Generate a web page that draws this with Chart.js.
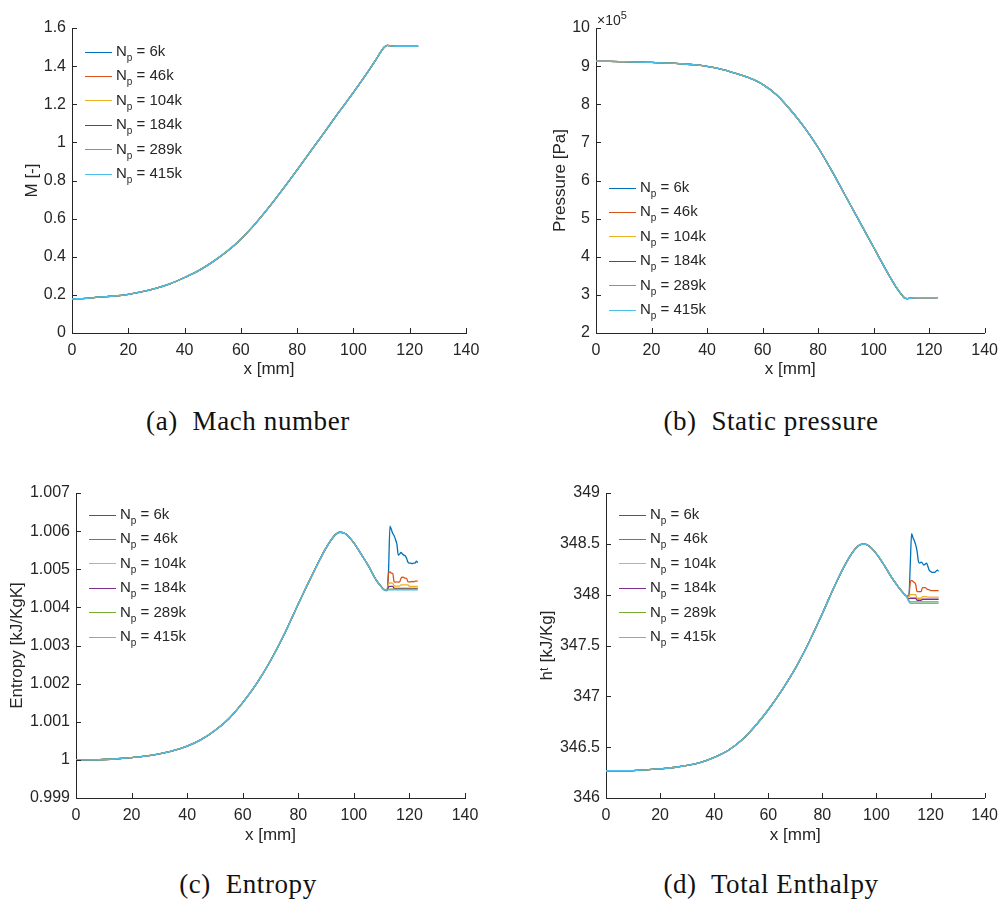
<!DOCTYPE html>
<html lang="en">

<head>
    <meta charset="UTF-8">
    <title>Grid convergence – nozzle flow</title>
    <script src="https://cdn.jsdelivr.net/npm/chart.js"></script>
    <style>
        body {
            margin: 0;
            background: #fff;
            font-family: "Liberation Sans", Arial, sans-serif;
        }

        #page {
            position: relative;
            width: 1006px;
            height: 904px;
            overflow: hidden;
        }

        .panel {
            position: absolute;
        }

        .legend {
            position: absolute;
            font-size: 15px;
            color: #262626;
        }

        .legend .row {
            position: absolute;
            left: 0;
            height: 20px;
            line-height: 20px;
            white-space: nowrap;
        }

        .legend .swatch {
            display: inline-block;
            width: 27px;
            height: 0;
            border-top: 1.6px solid;
            vertical-align: middle;
            margin-right: 4px;
        }

        .legend sub {
            font-size: 10px;
            vertical-align: baseline;
            position: relative;
            top: 5px;
        }

        .caption {
            position: absolute;
            width: 400px;
            text-align: center;
            font-family: "Liberation Serif", "DejaVu Serif", serif;
            font-size: 27px;
            letter-spacing: 0.6px;
            color: #111;
        }

        .exponent {
            position: absolute;
            font-size: 14px;
            color: #262626;
        }

        .exponent sup {
            font-size: 11px;
        }
    </style>
</head>

<body>
    <div id="page">
        <div class="panel" style="left:0;top:0"><canvas id="mach" width="500" height="390"></canvas></div>
        <div class="panel" style="left:520px;top:0"><canvas id="pressure" width="486" height="390"></canvas></div>
        <div class="panel" style="left:0;top:470px"><canvas id="entropy" width="500" height="380"></canvas></div>
        <div class="panel" style="left:520px;top:470px"><canvas id="enthalpy" width="486" height="380"></canvas></div>
        <div class="exponent" style="left:597px;top:9px">&times;10<sup>5</sup></div>
        <div class="caption" style="left:48px;top:406px">(a)&nbsp; Mach number</div>
        <div class="caption" style="left:571px;top:406px">(b)&nbsp; Static pressure</div>
        <div class="caption" style="left:48px;top:869px">(c)&nbsp; Entropy</div>
        <div class="caption" style="left:571px;top:869px">(d)&nbsp; Total Enthalpy</div>
    </div>

    <script>
        // mesh sizes and MATLAB default line colours
        const meshLabels = ['6k', '46k', '104k', '184k', '289k', '415k'];
        const meshColors = ['#0072BD', '#D95319', '#EDB120', '#7E2F8E', '#77AC30', '#4DBEEE'];

        const xTicks = [0, 20, 40, 60, 80, 100, 120, 140];

        // (a) Mach number - all meshes collapse on one curve
        const machX = [0, 5, 10, 15, 20, 25, 30, 35, 40, 45, 50, 55, 60, 65, 70, 75, 80, 85, 90, 95, 100, 105, 108, 110, 111, 112, 113, 115, 123];
        const machY = [0.179, 0.182, 0.189, 0.194, 0.203, 0.217, 0.235, 0.259, 0.291, 0.327, 0.373, 0.427, 0.492, 0.571, 0.660, 0.756, 0.856, 0.958, 1.059, 1.162, 1.262, 1.367, 1.434, 1.481, 1.500, 1.509, 1.507, 1.504, 1.504];
        const machTicks = [0, 0.2, 0.4, 0.6, 0.8, 1, 1.2, 1.4, 1.6];

        // (b) static pressure [Pa]
        const presX = [0, 5, 10, 15, 20, 25, 30, 35, 40, 45, 50, 55, 60, 65, 70, 75, 80, 85, 90, 95, 100, 105, 108, 110, 111, 112, 113, 115, 123];
        const presY = [9.125e5, 9.125e5, 9.116e5, 9.107e5, 9.098e5, 9.081e5, 9.063e5, 9.037e5, 8.994e5, 8.923e5, 8.819e5, 8.696e5, 8.521e5, 8.249e5, 7.856e5, 7.400e5, 6.866e5, 6.245e5, 5.580e5, 4.915e5, 4.249e5, 3.584e5, 3.217e5, 3.015e5, 2.928e5, 2.902e5, 2.910e5, 2.928e5, 2.928e5];
        const presTicks = [2e5, 3e5, 4e5, 5e5, 6e5, 7e5, 8e5, 9e5, 10e5];

        // (c)/(d) common part of the curves, then per-mesh tails after the shock
        const baseX = [0, 5, 10, 15, 20, 25, 30, 35, 40, 45, 50, 55, 60, 65, 70, 75, 80, 85, 90, 93, 95, 97, 100, 103, 105, 108, 110, 111];
        const tailX = [112, 112.5, 113, 113.5, 114, 114.5, 115, 115.5, 116, 116.5, 117, 117.5, 118, 118.5, 119, 119.5, 120, 120.5, 121, 121.5, 122, 122.5, 123];

        const entropyBase = [1.00000, 1.00000, 1.00001, 1.00003, 1.00006, 1.00010, 1.00016, 1.00024, 1.00036, 1.00053, 1.00077, 1.00108, 1.00150, 1.00200, 1.00260, 1.00330, 1.00409, 1.00485, 1.00556, 1.00588, 1.00597, 1.00593, 1.00569, 1.00535, 1.00512, 1.00472, 1.00453, 1.00446];
        const entropy6k = [1.00446, 1.00500, 1.00613, 1.00604, 1.00594, 1.00588, 1.00578, 1.00565, 1.00537, 1.00540, 1.00544, 1.00540, 1.00537, 1.00535, 1.00528, 1.00518, 1.00516, 1.00516, 1.00515, 1.00516, 1.00516, 1.00521, 1.00517];
        const entropy46k = [1.00445, 1.00490, 1.00493, 1.00490, 1.00489, 1.00467, 1.00466, 1.00467, 1.00466, 1.00467, 1.00477, 1.00479, 1.00478, 1.00477, 1.00476, 1.00467, 1.00467, 1.00467, 1.00468, 1.00467, 1.00469, 1.00469, 1.00469];
        const entropy104k = [1.00445, 1.00462, 1.00464, 1.00464, 1.00463, 1.00457, 1.00456, 1.00456, 1.00456, 1.00456, 1.00459, 1.00459, 1.00459, 1.00459, 1.00459, 1.00459, 1.00455, 1.00455, 1.00455, 1.00455, 1.00455, 1.00455, 1.00455];
        const entropy184k = [1.00444, 1.00454, 1.00455, 1.00455, 1.00455, 1.00450, 1.00450, 1.00450, 1.00450, 1.00450, 1.00450, 1.00450, 1.00450, 1.00450, 1.00450, 1.00450, 1.00450, 1.00450, 1.00450, 1.00450, 1.00450, 1.00450, 1.00450];
        const entropy289k = [1.00445, 1.00448, 1.00448, 1.00448, 1.00448, 1.00448, 1.00448, 1.00448, 1.00448, 1.00448, 1.00448, 1.00448, 1.00448, 1.00448, 1.00448, 1.00448, 1.00448, 1.00448, 1.00448, 1.00448, 1.00448, 1.00448, 1.00448];
        const entropy415k = [1.00445, 1.00446, 1.00446, 1.00446, 1.00446, 1.00446, 1.00446, 1.00446, 1.00446, 1.00446, 1.00446, 1.00446, 1.00446, 1.00446, 1.00446, 1.00446, 1.00446, 1.00446, 1.00446, 1.00446, 1.00446, 1.00446, 1.00446];
        const entropyTicks = [0.999, 1, 1.001, 1.002, 1.003, 1.004, 1.005, 1.006, 1.007];

        const enthalpyBase = [346.268, 346.268, 346.270, 346.276, 346.287, 346.300, 346.320, 346.350, 346.400, 346.465, 346.565, 346.703, 346.868, 347.058, 347.275, 347.530, 347.815, 348.113, 348.369, 348.474, 348.497, 348.484, 348.402, 348.284, 348.195, 348.080, 348.014, 347.988];
        const enthalpy6k = [347.99, 348.30, 348.60, 348.56, 348.53, 348.49, 348.43, 348.33, 348.31, 348.32, 348.31, 348.29, 348.30, 348.31, 348.28, 348.24, 348.23, 348.22, 348.22, 348.22, 348.23, 348.24, 348.23];
        const enthalpy46k = [347.99, 348.12, 348.14, 348.13, 348.12, 348.10, 348.03, 348.03, 348.03, 348.03, 348.07, 348.07, 348.07, 348.06, 348.05, 348.05, 348.04, 348.04, 348.04, 348.04, 348.04, 348.04, 348.04];
        const enthalpy104k = [347.98, 348.00, 348.00, 348.00, 348.00, 348.00, 347.965, 347.965, 347.965, 347.965, 347.98, 347.98, 347.98, 347.98, 347.975, 347.975, 347.975, 347.975, 347.975, 347.975, 347.975, 347.975, 347.975];
        const enthalpy184k = [347.96, 347.965, 347.965, 347.965, 347.965, 347.965, 347.945, 347.945, 347.945, 347.945, 347.955, 347.955, 347.955, 347.955, 347.955, 347.955, 347.955, 347.955, 347.955, 347.955, 347.955, 347.955, 347.955];
        const enthalpy289k = [347.94, 347.93, 347.93, 347.93, 347.93, 347.93, 347.93, 347.93, 347.93, 347.93, 347.93, 347.93, 347.93, 347.93, 347.93, 347.93, 347.93, 347.93, 347.93, 347.93, 347.93, 347.93, 347.93];
        const enthalpy415k = [347.93, 347.915, 347.915, 347.915, 347.915, 347.915, 347.915, 347.915, 347.915, 347.915, 347.915, 347.915, 347.915, 347.915, 347.915, 347.915, 347.915, 347.915, 347.915, 347.915, 347.915, 347.915, 347.915];
        const enthalpyTicks = [346, 346.5, 347, 347.5, 348, 348.5, 349];

        const ink = '#262626';
        Chart.defaults.font.family = '"Liberation Sans", Arial, sans-serif';
        Chart.defaults.color = ink;

        // MATLAB style tick marks pointing into the axes
        const innerTicks = {
            id: 'innerTicks',
            afterDraw(chart) {
                const { ctx, chartArea: a, scales: { x, y } } = chart;
                ctx.save();
                ctx.strokeStyle = ink;
                ctx.lineWidth = 1;
                ctx.beginPath();
                x.ticks.forEach(t => {
                    const p = Math.round(x.getPixelForValue(t.value)) + 0.5;
                    ctx.moveTo(p, a.bottom);
                    ctx.lineTo(p, a.bottom - 5);
                });
                y.ticks.forEach(t => {
                    const p = Math.round(y.getPixelForValue(t.value)) + 0.5;
                    ctx.moveTo(a.left, p);
                    ctx.lineTo(a.left + 5, p);
                });
                ctx.stroke();
                ctx.restore();
            }
        };

        function toPoints(xs, ys) {
            return xs.map((x, k) => ({ x: x, y: ys[k] }));
        }

        function makeChart(id, cfg) {
            const datasets = cfg.series.map((pts, i) => ({
                label: 'Np = ' + meshLabels[i],
                data: pts,
                borderColor: meshColors[i],
                borderWidth: 1.3,
                pointRadius: 0,
                cubicInterpolationMode: 'monotone',
                order: meshLabels.length - i   // last mesh on top, like the original
            }));

            return new Chart(document.getElementById(id), {
                type: 'line',
                data: { datasets: datasets },
                plugins: [innerTicks],
                options: {
                    responsive: false,
                    animation: false,
                    layout: { padding: cfg.padding },
                    plugins: { legend: { display: false }, tooltip: { enabled: false } },
                    scales: {
                        x: {
                            type: 'linear',
                            min: 0,
                            max: 140,
                            afterBuildTicks: axis => { axis.ticks = xTicks.map(v => ({ value: v })); },
                            afterFit: axis => { axis.height = 50; },
                            grid: { drawOnChartArea: false, drawTicks: false },
                            border: { color: ink, width: 1 },
                            ticks: { font: { size: 16 }, padding: 8, maxRotation: 0 },
                            title: { display: true, text: 'x [mm]', font: { size: 17 }, padding: { top: 0, bottom: cfg.xTitlePad } }
                        },
                        y: {
                            type: 'linear',
                            min: cfg.yTicks[0],
                            max: cfg.yTicks[cfg.yTicks.length - 1],
                            afterBuildTicks: axis => { axis.ticks = cfg.yTicks.map(v => ({ value: v })); },
                            afterFit: axis => { axis.width = cfg.yWidth; },
                            grid: { drawOnChartArea: false, drawTicks: false },
                            border: { color: ink, width: 1 },
                            ticks: { font: { size: 16 }, padding: 6, callback: cfg.tickFmt },
                            title: { display: true, text: cfg.yTitle, font: { size: 17 }, padding: { top: cfg.yTitlePad, bottom: 0 } }
                        }
                    }
                }
            });
        }

        function makeLegend(left, top) {
            const box = document.createElement('div');
            box.className = 'legend';
            box.style.left = left + 'px';
            box.style.top = top + 'px';
            meshLabels.forEach((lab, i) => {
                const row = document.createElement('div');
                row.className = 'row';
                row.style.top = (i * 24.4 - 10) + 'px';
                row.innerHTML = '<span class="swatch" style="border-color:' + meshColors[i] + '"></span>N<sub>p</sub> = ' + lab;
                box.appendChild(row);
            });
            document.getElementById('page').appendChild(box);
        }

        const trim3 = v => String(Number(v.toFixed(3)));

        makeChart('mach', {
            series: meshLabels.map(() => toPoints(machX, machY)),
            yTicks: machTicks,
            yTitle: 'M [-]',
            tickFmt: trim3,
            yWidth: 72,
            yTitlePad: 22,
            xTitlePad: 3,
            padding: { top: 28, right: 34, bottom: 7, left: 0 }
        });

        makeChart('pressure', {
            series: meshLabels.map(() => toPoints(presX, presY)),
            yTicks: presTicks,
            yTitle: 'Pressure [Pa]',
            tickFmt: v => String(Math.round(v / 1e5)),
            yWidth: 76,
            yTitlePad: 30,
            xTitlePad: 3,
            padding: { top: 28, right: 17, bottom: 7, left: 0 }
        });

        const entropyTails = [entropy6k, entropy46k, entropy104k, entropy184k, entropy289k, entropy415k];
        makeChart('entropy', {
            series: entropyTails.map(t => toPoints(baseX.concat(tailX), entropyBase.concat(t))),
            yTicks: entropyTicks,
            yTitle: 'Entropy [kJ/KgK]',
            tickFmt: trim3,
            yWidth: 76,
            yTitlePad: 7,
            xTitlePad: 2,
            padding: { top: 23, right: 35, bottom: 2, left: 0 }
        });

        const enthalpyTails = [enthalpy6k, enthalpy46k, enthalpy104k, enthalpy184k, enthalpy289k, enthalpy415k];
        makeChart('enthalpy', {
            series: enthalpyTails.map(t => toPoints(baseX.concat(tailX), enthalpyBase.concat(t))),
            yTicks: enthalpyTicks,
            yTitle: 'h\u1D57 [kJ/Kg]',
            tickFmt: trim3,
            yWidth: 86,
            yTitlePad: 17,
            xTitlePad: 2,
            padding: { top: 23, right: 17, bottom: 2, left: 0 }
        });

        makeLegend(85, 51);
        makeLegend(609, 187);
        makeLegend(89, 514);
        makeLegend(619, 514);
    </script>
</body>

</html>
